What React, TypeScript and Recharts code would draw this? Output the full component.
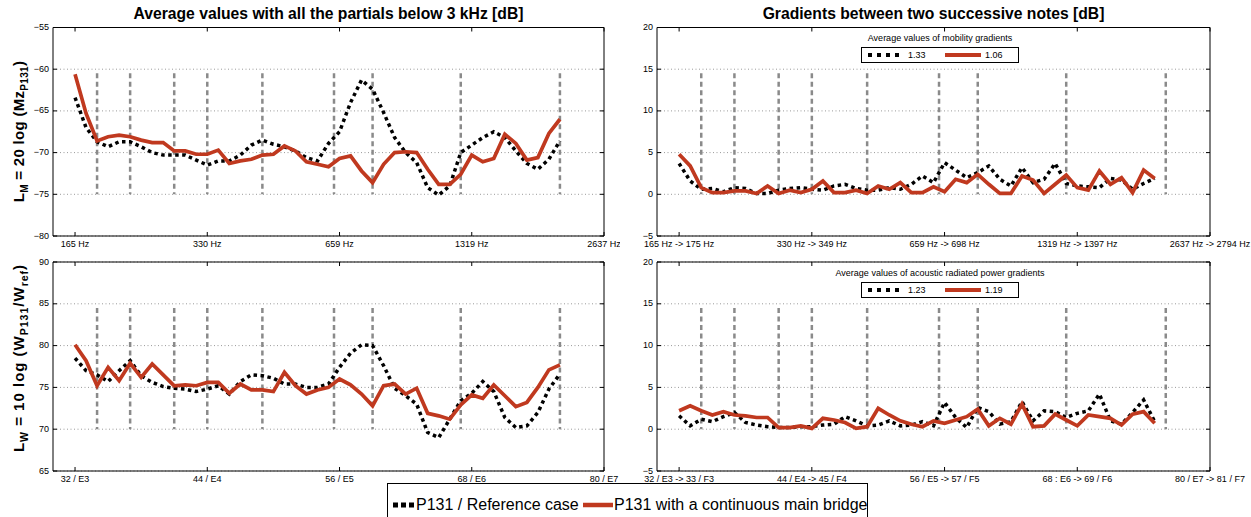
import React from 'react';
import {
  LineChart,
  Line,
  XAxis,
  YAxis,
  CartesianGrid,
  ReferenceLine,
  ReferenceArea,
  Legend,
} from 'recharts';

const FONT = '"Liberation Sans", Arial, Helvetica, sans-serif';
const RED = '#c0391f';
const GRAY = '#8a8a8a';

// ---------- data ----------
const notes = [32, 33, 34, 35, 36, 37, 38, 39, 40, 41, 42, 43, 44, 45, 46, 47, 48, 49, 50, 51, 52, 53, 54, 55, 56, 57, 58, 59, 60, 61, 62, 63, 64, 65, 66, 67, 68, 69, 70, 71, 72, 73, 74, 75, 76];

const mzRef = [-63.4, -67.0, -68.7, -69.3, -68.7, -68.7, -69.3, -70.0, -70.3, -70.3, -70.3, -70.9, -71.5, -71.0, -71.0, -70.3, -69.1, -68.5, -69.0, -69.3, -69.8, -70.6, -71.0, -68.9, -67.5, -64.0, -61.3, -62.4, -65.2, -68.2, -70.0, -71.2, -74.2, -75.1, -74.0, -70.0, -69.1, -68.2, -67.5, -68.2, -69.8, -71.3, -72.0, -70.8, -68.6];
const mzBridge = [-60.6, -65.3, -68.6, -68.1, -67.9, -68.1, -68.5, -68.8, -68.8, -69.8, -69.8, -70.2, -70.2, -69.7, -71.3, -71.0, -70.8, -70.3, -70.2, -69.2, -69.8, -71.1, -71.4, -71.7, -70.7, -70.4, -72.2, -73.6, -71.4, -70.0, -69.9, -70.0, -72.0, -73.8, -73.8, -72.6, -70.3, -71.1, -70.7, -67.8, -68.9, -70.9, -70.6, -67.7, -66.0];

const lwRef = [78.5, 77.0, 76.5, 75.7, 77.0, 78.2, 76.4, 75.6, 75.1, 74.9, 74.8, 74.5, 74.8, 75.2, 74.2, 75.7, 76.5, 76.4, 76.1, 75.4, 75.4, 75.0, 75.0, 75.4, 77.4, 79.1, 80.1, 80.0, 77.6, 74.9, 74.0, 73.0, 69.6, 69.0, 71.2, 73.4, 74.3, 75.7, 74.5, 71.4, 70.2, 70.4, 72.0, 74.8, 76.6];
const lwBridge = [80.1, 78.2, 75.2, 77.4, 75.8, 77.9, 76.2, 77.8, 76.5, 75.2, 75.3, 75.2, 75.6, 75.6, 74.3, 75.4, 74.7, 74.7, 74.5, 76.8, 75.2, 74.2, 74.7, 75.0, 76.0, 75.3, 74.2, 72.8, 75.2, 75.4, 74.2, 74.9, 71.9, 71.6, 71.2, 72.9, 74.1, 73.7, 75.3, 74.0, 72.7, 73.2, 75.0, 77.1, 77.7];

const gradNotes = [32, 33, 34, 35, 36, 37, 38, 39, 40, 41, 42, 43, 44, 45, 46, 47, 48, 49, 50, 51, 52, 53, 54, 55, 56, 57, 58, 59, 60, 61, 62, 63, 64, 65, 66, 67, 68, 69, 70, 71, 72, 73, 74, 75];

const gMzRef = [3.7, 1.6, 0.6, 0.7, 0.3, 0.8, 0.7, 0.1, 0.1, 0.5, 0.7, 0.8, 0.6, 0.5, 1.0, 1.2, 0.7, 0.5, 0.5, 0.8, 0.6, 1.2, 2.2, 1.4, 3.8, 2.9, 2.0, 2.6, 3.4, 1.8, 1.0, 3.2, 1.4, 1.8, 3.7, 1.3, 1.0, 0.9, 0.8, 1.9, 1.7, 0.6, 1.3, 1.9];
const gMzBridge = [4.8, 3.4, 0.8, 0.2, 0.2, 0.4, 0.4, 0.1, 1.0, 0.1, 0.5, 0.2, 0.6, 1.6, 0.2, 0.2, 0.5, 0.1, 1.0, 0.6, 1.4, 0.2, 0.2, 0.9, 0.3, 1.8, 1.4, 2.4, 1.2, 0.1, 0.1, 2.2, 1.7, 0.1, 1.2, 2.3, 0.8, 0.5, 2.8, 1.2, 2.0, 0.2, 2.9, 1.9];

const gLwRef = [1.6, 0.4, 1.2, 0.9, 1.5, 2.0, 0.8, 0.5, 0.3, 0.2, 0.2, 0.3, 0.3, 0.5, 0.6, 1.5, 1.0, 0.4, 0.5, 1.0, 0.4, 0.5, 0.9, 0.4, 3.2, 1.4, 0.2, 2.6, 2.1, 0.6, 0.9, 3.3, 1.0, 2.2, 2.1, 1.4, 1.9, 2.2, 4.2, 1.0, 0.6, 2.0, 3.5, 0.9];
const gLwBridge = [2.2, 2.8, 2.2, 1.7, 2.1, 1.7, 1.6, 1.4, 1.4, 0.2, 0.2, 0.4, 0.1, 1.3, 1.1, 0.8, 0.1, 0.3, 2.5, 1.7, 1.0, 0.6, 0.3, 1.0, 0.7, 1.1, 1.5, 2.4, 0.4, 1.3, 0.6, 3.0, 0.3, 0.4, 1.8, 1.1, 0.4, 1.7, 1.5, 1.3, 0.5, 1.8, 2.1, 0.7];

const boundaryNotes = [34, 37, 41, 44, 49, 55.5, 59, 67, 76];
const xTickNotes = [32, 44, 56, 68, 80];
const mzTickLabels = ['165 Hz', '330 Hz', '659 Hz', '1319 Hz', '2637 Hz'];
const lwTickLabels = ['32 / E3', '44 / E4', '56 / E5', '68 / E6', '80 / E7'];
const gMzTickLabels = ['165 Hz -> 175 Hz', '330 Hz -> 349 Hz', '659 Hz -> 698 Hz', '1319 Hz -> 1397 Hz', '2637 Hz -> 2794 Hz'];
const gLwTickLabels = ['32 / E3 -> 33 / F3', '44 / E4 -> 45 / F4', '56 / E5 -> 57 / F5', '68 : E6 -> 69 / F6', '80 / E7 -> 81 / F7'];
const mzYTicks = [-80, -75, -70, -65, -60, -55];
const lwYTicks = [65, 70, 75, 80, 85, 90];
const gYTicks = [-5, 0, 5, 10, 15, 20];
const gMzAverages = [1.33, 1.06];
const gLwAverages = [1.23, 1.19];
const seriesNames = ['P131 / Reference case', 'P131 with a continuous main bridge'];
const titles = ['Average values with all the partials below 3 kHz [dB]', 'Gradients between two successive notes [dB]'];
const gradLegendTitles = ['Average values of mobility gradients', 'Average values of acoustic radiated power gradients'];

const build = (xs: number[], ref: number[], bridge: number[]) =>
  xs.map((n, i) => ({ n, ref: ref[i], bridge: bridge[i] }));

const mzData = build(notes, mzRef, mzBridge);
const lwData = build(notes, lwRef, lwBridge);
const gMzData = build(gradNotes, gMzRef, gMzBridge);
const gLwData = build(gradNotes, gLwRef, gLwBridge);

const X_AXIS_H = 14;

type PanelProps = {
  left: number;
  top: number;
  width: number;
  height: number;
  margin: { top: number; right: number; bottom: number; left: number };
  yAxisWidth: number;
  data: any[];
  yDomain: [number, number];
  yTicks: number[];
  xLabels: string[];
  boundaryRange: [number, number];
  legend?: React.ReactNode;
};

const Panel = (p: PanelProps) => {
  const plotW = p.width - p.margin.left - p.margin.right - p.yAxisWidth;
  const plotH = p.height - p.margin.top - p.margin.bottom - X_AXIS_H;
  const fmtY = (v: number) => (v < 0 ? '\u2212' + Math.abs(v) : String(v));

  const renderXTick = (props: any) => {
    const { x, y, payload } = props;
    const idx = xTickNotes.indexOf(payload.value);
    return (
      <g>
        <line x1={x} x2={x} y1={y} y2={y - 4} stroke="#000" strokeWidth={1} />
        <line x1={x} x2={x} y1={y - plotH} y2={y - plotH + 4} stroke="#000" strokeWidth={1} />
        <text x={x} y={y + 10.5} textAnchor="middle" fontSize={9} fontFamily={FONT} fill="#000">
          {p.xLabels[idx]}
        </text>
      </g>
    );
  };

  const renderYTick = (props: any) => {
    const { x, y, payload } = props;
    return (
      <g>
        <line x1={x} x2={x + 4} y1={y} y2={y} stroke="#000" strokeWidth={1} />
        <line x1={x + plotW - 4} x2={x + plotW} y1={y} y2={y} stroke="#000" strokeWidth={1} />
        <text x={x - 4} y={y + 2.5} textAnchor="end" fontSize={9} fontFamily={FONT} fill="#000">
          {fmtY(payload.value)}
        </text>
      </g>
    );
  };

  return (
    <div style={{ position: 'absolute', left: p.left, top: p.top }}>
      <LineChart width={p.width} height={p.height} data={p.data} margin={p.margin}>
        <CartesianGrid vertical={false} stroke="#9a9a9a" strokeDasharray="1 2.5" />
        <XAxis
          dataKey="n"
          type="number"
          domain={[30, 80]}
          ticks={xTickNotes}
          interval={0}
          height={X_AXIS_H}
          axisLine={false}
          tickLine={false}
          tickSize={0}
          tickMargin={0}
          tick={renderXTick}
          allowDataOverflow
        />
        <YAxis
          type="number"
          domain={p.yDomain}
          ticks={p.yTicks}
          interval={0}
          width={p.yAxisWidth}
          axisLine={false}
          tickLine={false}
          tickSize={0}
          tickMargin={0}
          tick={renderYTick}
          allowDataOverflow
        />
        {boundaryNotes.map((b) => (
          <ReferenceLine
            key={b}
            segment={[
              { x: b, y: p.boundaryRange[0] },
              { x: b, y: p.boundaryRange[1] },
            ]}
            stroke={GRAY}
            strokeWidth={2.5}
            strokeDasharray="5 3.5"
          />
        ))}
        <ReferenceArea
          x1={30}
          x2={80}
          y1={p.yDomain[0]}
          y2={p.yDomain[1]}
          fill="none"
          fillOpacity={0}
          stroke="#000"
          strokeWidth={1}
          ifOverflow="visible"
        />
        <Line
          type="linear"
          dataKey="ref"
          name={seriesNames[0]}
          stroke="#000"
          strokeWidth={3.5}
          strokeDasharray="3.5 3.5"
          dot={false}
          activeDot={false}
          isAnimationActive={false}
        />
        <Line
          type="linear"
          dataKey="bridge"
          name={seriesNames[1]}
          stroke={RED}
          strokeWidth={3.7}
          dot={false}
          activeDot={false}
          isAnimationActive={false}
        />
        {p.legend}
      </LineChart>
    </div>
  );
};

const GradLegend = ({ title, values }: { title: string; values: number[] }) => (
  <div style={{ position: 'relative', width: 240, height: 32, fontFamily: FONT, fontSize: 9, color: '#000' }}>
    <div style={{ position: 'absolute', left: 0, top: 0, width: 240, textAlign: 'center', lineHeight: '12px', whiteSpace: 'nowrap' }}>
      {title}
    </div>
    <div
      style={{
        position: 'absolute',
        left: 41,
        top: 15,
        width: 158,
        height: 16,
        boxSizing: 'border-box',
        border: '1px solid #000',
        background: '#fff',
      }}
    >
      <svg style={{ position: 'absolute', left: 6, top: 0 }} width={36} height={14}>
        <line x1={0} x2={36} y1={7} y2={7} stroke="#000" strokeWidth={4} strokeDasharray="4 5" />
      </svg>
      <span style={{ position: 'absolute', left: 46, top: 1, lineHeight: '12px' }}>{values[0].toFixed(2)}</span>
      <svg style={{ position: 'absolute', left: 83, top: 0 }} width={36} height={14}>
        <line x1={0} x2={36} y1={7} y2={7} stroke={RED} strokeWidth={4} />
      </svg>
      <span style={{ position: 'absolute', left: 123, top: 1, lineHeight: '12px' }}>{values[1].toFixed(2)}</span>
    </div>
  </div>
);

const MainLegend = () => (
  <div
    style={{
      position: 'relative',
      width: 481,
      height: 44,
      boxSizing: 'border-box',
      border: '1px solid #000',
      background: '#fff',
      fontFamily: FONT,
      fontSize: 16,
      color: '#000',
    }}
  >
    <svg style={{ position: 'absolute', left: 5, top: 17 }} width={22} height={8}>
      <line x1={0} x2={22} y1={4} y2={4} stroke="#000" strokeWidth={5} strokeDasharray="5 3" />
    </svg>
    <span style={{ position: 'absolute', left: 28, top: 12, lineHeight: '18px', whiteSpace: 'nowrap' }}>{seriesNames[0]}</span>
    <svg style={{ position: 'absolute', left: 195, top: 17 }} width={30} height={8}>
      <line x1={0} x2={30} y1={4} y2={4} stroke={RED} strokeWidth={4.5} />
    </svg>
    <span style={{ position: 'absolute', left: 226, top: 12, lineHeight: '18px', whiteSpace: 'nowrap' }}>{seriesNames[1]}</span>
  </div>
);

const legendProps = {
  layout: 'vertical' as const,
  align: 'center' as const,
  verticalAlign: 'middle' as const,
};

export default function App() {
  return (
    <div
      style={{
        position: 'absolute',
        left: 0,
        top: 0,
        width: 1251,
        height: 517,
        background: '#fff',
        fontFamily: FONT,
        overflow: 'hidden',
      }}
    >
      <svg style={{ position: 'absolute', left: 0, top: 0 }} width={1251} height={517}>
        <text x={328.5} y={19} textAnchor="middle" fontSize={15.7} fontWeight="bold" fontFamily={FONT} fill="#000">
          {titles[0]}
        </text>
        <text x={933.5} y={19} textAnchor="middle" fontSize={15.7} fontWeight="bold" fontFamily={FONT} fill="#000">
          {titles[1]}
        </text>
        <text transform="translate(24,131.5) rotate(-90)" textAnchor="middle" fontSize={15} fontWeight="bold" fontFamily={FONT} fill="#000" letterSpacing={0.3}>
          L<tspan fontSize={10} dy={4}>M</tspan>
          <tspan dy={-4}>{' = 20 log (Mz'}</tspan>
          <tspan fontSize={10} dy={4}>P131</tspan>
          <tspan dy={-4}>)</tspan>
        </text>
        <text transform="translate(24,358) rotate(-90)" textAnchor="middle" fontSize={15} fontWeight="bold" fontFamily={FONT} fill="#000" letterSpacing={1}>
          L<tspan fontSize={10.5} dy={4}>W</tspan>
          <tspan dy={-4}>{' = 10 log (W'}</tspan>
          <tspan fontSize={10.5} dy={4}>P131</tspan>
          <tspan dy={-4}>/W</tspan>
          <tspan fontSize={10.5} dy={4}>ref</tspan>
          <tspan dy={-4}>)</tspan>
        </text>
      </svg>

      <Panel
        left={0}
        top={0}
        width={620}
        height={250}
        margin={{ top: 27.5, right: 16, bottom: 0, left: 13 }}
        yAxisWidth={40}
        data={mzData}
        yDomain={[-80, -55]}
        yTicks={mzYTicks}
        xLabels={mzTickLabels}
        boundaryRange={[-60.5, -75]}
      />
      <Panel
        left={620}
        top={0}
        width={631}
        height={250}
        margin={{ top: 27.5, right: 41, bottom: 0, left: 7 }}
        yAxisWidth={30}
        data={gMzData}
        yDomain={[-5, 20]}
        yTicks={gYTicks}
        xLabels={gMzTickLabels}
        boundaryRange={[14.5, 0]}
        legend={
          <Legend
            {...legendProps}
            wrapperStyle={{ left: 200, top: 32, width: 240, height: 32 }}
            content={() => <GradLegend title={gradLegendTitles[0]} values={gMzAverages} />}
          />
        }
      />
      <Panel
        left={0}
        top={250}
        width={620}
        height={235}
        margin={{ top: 12, right: 16, bottom: 0, left: 13 }}
        yAxisWidth={40}
        data={lwData}
        yDomain={[65, 90]}
        yTicks={lwYTicks}
        xLabels={lwTickLabels}
        boundaryRange={[84.5, 70]}
        legend={
          <Legend
            {...legendProps}
            wrapperStyle={{ left: 387, top: 233, width: 481, height: 44 }}
            content={() => <MainLegend />}
          />
        }
      />
      <Panel
        left={620}
        top={250}
        width={631}
        height={235}
        margin={{ top: 12, right: 41, bottom: 0, left: 7 }}
        yAxisWidth={30}
        data={gLwData}
        yDomain={[-5, 20]}
        yTicks={gYTicks}
        xLabels={gLwTickLabels}
        boundaryRange={[14.5, 0]}
        legend={
          <Legend
            {...legendProps}
            wrapperStyle={{ left: 200, top: 17, width: 240, height: 32 }}
            content={() => <GradLegend title={gradLegendTitles[1]} values={gLwAverages} />}
          />
        }
      />
    </div>
  );
}
